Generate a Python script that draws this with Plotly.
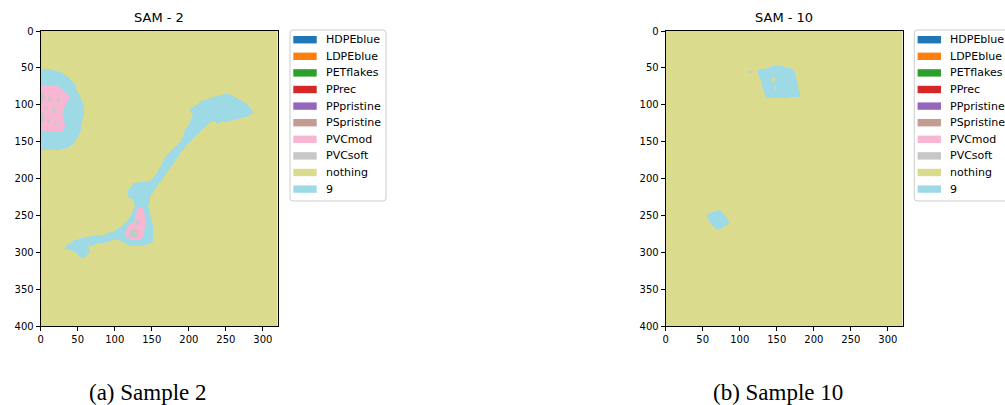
import numpy as np
import plotly.graph_objects as go

# ---------------- data ----------------
CLASS_NAMES = ["HDPEblue", "LDPEblue", "PETflakes", "PPrec", "PPpristine",
               "PSpristine", "PVCmod", "PVCsoft", "nothing", "9"]
CLASS_COLORS = ["#1f77b4", "#ff7f0e", "#2ca02c", "#d62728", "#9467bd",
                "#c49c94", "#f7b6d2", "#c7c7c7", "#dbdb8d", "#9edae5"]
IMG_ROWS = 400
IMG_COLS = 320
BACKGROUND_CLASS = 8

# Sample 2 regions (x, y) in pixel coordinates of the map
SAM2_LEFT_BLOB = [(0, 52), (12, 52), (22, 54), (35, 60), (45, 70), (51, 84), (56, 95),
                  (59, 103), (57, 118), (55, 130), (52, 140), (48, 148), (42, 154),
                  (35, 159), (25, 161), (17, 162), (0, 162)]
SAM2_LEFT_PINK = [(0, 73), (12, 73), (22, 75), (30, 79), (35, 84), (41, 90), (36, 96),
                  (31, 106), (29, 114), (32, 122), (33, 128), (31, 135), (20, 137),
                  (12, 136), (0, 136)]
SAM2_LEFT_GRAY = [
    [(0, 84), (4, 82), (6, 90), (3, 96), (0, 95)],
    [(0, 112), (3, 110), (6, 117), (4, 124), (0, 125)],
    [(10, 90), (14, 89), (15, 94), (11, 96)],
    [(15, 106), (19, 105), (20, 110), (16, 112)],
    [(8, 120), (12, 119), (13, 124), (9, 125)],
    [(22, 92), (25, 91), (26, 95), (23, 96)],
    [(6, 102), (9, 101), (10, 105), (7, 106)],
    [(18, 124), (21, 123), (22, 127), (19, 128)],
]
SAM2_STRIP = [(201, 107), (215, 96), (233, 89), (253, 85), (262, 89), (275, 96), (284, 105),
              (287, 111), (279, 116), (266, 119), (251, 123), (239, 125), (230, 123),
              (221, 131), (208, 143), (197, 155), (184, 172), (170, 193), (157, 211),
              (148, 225), (145, 238), (150, 256), (152, 274), (151, 286), (143, 290),
              (130, 292), (118, 290), (112, 286), (103, 283), (94, 285), (75, 289),
              (64, 292), (67, 299), (60, 306), (55, 309), (51, 304), (46, 298), (37, 297),
              (33, 295), (35, 290), (48, 283), (62, 279), (86, 276), (100, 271),
              (106, 267), (112, 262), (121, 252), (127, 238), (125, 229), (118, 225),
              (118, 216), (125, 206), (146, 204), (157, 193), (166, 175), (176, 162),
              (190, 148), (196, 133), (201, 125), (205, 114)]
SAM2_EDGE_BIT = [(0, 266), (2, 268), (2, 274), (0, 276)]
SAM2_STRIP_PINK = [(131, 240), (138, 239), (141, 250), (141, 262), (140, 277), (134, 283),
                   (125, 284), (114, 278), (115, 268), (122, 262), (127, 256), (129, 247)]
SAM2_STRIP_GRAY = [
    [(119, 272), (126, 267), (133, 271), (131, 280), (121, 281)],
    [(128, 258), (133, 256), (134, 262), (129, 263)],
]

# Sample 10 regions
SAM10_TOP_BLOB = [(125, 53), (138, 50), (150, 46), (162, 49), (172, 51), (176, 65),
                  (181, 84), (181, 89), (170, 90), (159, 91), (147, 91), (136, 91),
                  (131, 78), (129, 70), (125, 58)]
SAM10_TOP_HOLES = [
    [(143, 64), (147, 63), (148, 68), (144, 69)],
    [(146, 76), (149, 75), (150, 80), (147, 80)],
]
SAM10_SPECK = [(113, 54), (116, 54), (116, 57), (113, 57)]
SAM10_LOW_BLOB = [(55, 249), (63, 246), (71, 243), (78, 247), (80, 250), (84, 256),
                  (87, 261), (79, 265), (70, 270), (64, 265), (58, 256)]


# ---------------- rasterise ----------------
def point_in_poly(poly, xs, ys):
    inside = np.zeros(xs.shape, dtype=bool)
    n = len(poly)
    for i in range(n):
        x1, y1 = poly[i]
        x2, y2 = poly[(i + 1) % n]
        cond = (y1 > ys) != (y2 > ys)
        with np.errstate(divide="ignore", invalid="ignore"):
            xint = (x2 - x1) * (ys - y1) / (y2 - y1 + 1e-12) + x1
        inside ^= cond & (xs < xint)
    return inside


def build_grid(layers):
    yy, xx = np.mgrid[0:IMG_ROWS, 0:IMG_COLS]
    xc = xx + 0.5
    yc = yy + 0.5
    grid = np.full((IMG_ROWS, IMG_COLS), BACKGROUND_CLASS, dtype=float)
    for cls, poly in layers:
        grid[point_in_poly(poly, xc, yc)] = cls
    return grid


sam2_layers = [(9, SAM2_LEFT_BLOB), (6, SAM2_LEFT_PINK)] + \
              [(7, p) for p in SAM2_LEFT_GRAY] + \
              [(9, SAM2_STRIP), (9, SAM2_EDGE_BIT), (6, SAM2_STRIP_PINK)] + \
              [(7, p) for p in SAM2_STRIP_GRAY]
sam10_layers = [(9, SAM10_TOP_BLOB)] + [(8, p) for p in SAM10_TOP_HOLES] + \
               [(9, SAM10_SPECK), (9, SAM10_LOW_BLOB)]

grid2 = build_grid(sam2_layers)
grid10 = build_grid(sam10_layers)

# discrete colorscale
cs = []
n = len(CLASS_COLORS)
for k, c in enumerate(CLASS_COLORS):
    cs.append([k / n, c])
    cs.append([(k + 1) / n, c])

W, H = 1005, 405


def fx(p):
    return p / W


def fy(p):
    return 1 - p / H


fig = go.Figure()
xc = np.arange(IMG_COLS) + 0.5
yc = np.arange(IMG_ROWS) + 0.5
for i, g in enumerate([grid2, grid10]):
    fig.add_trace(go.Heatmap(z=g, x=xc, y=yc, colorscale=cs, zmin=-0.5, zmax=9.5,
                             showscale=False, zsmooth=False, hoverinfo="skip",
                             xaxis="x" if i == 0 else "x2",
                             yaxis="y" if i == 0 else "y2"))

axis_common = dict(showline=True, mirror=True, linecolor="black", linewidth=1,
                   ticks="outside", ticklen=4, tickwidth=1, tickcolor="black",
                   showgrid=False, zeroline=False, automargin=False,
                   tickfont=dict(family="DejaVu Sans", size=10, color="black"))
ax_left = (40.7, 277.7)
ax_right = (665.7, 902.7)
ax_top, ax_bot = 31, 326
ydom = [fy(ax_bot), fy(ax_top)]

fig.update_layout(
    width=W, height=H, margin=dict(l=0, r=0, t=0, b=0, autoexpand=False),
    paper_bgcolor="white", plot_bgcolor="white", showlegend=False,
    xaxis=dict(domain=[fx(ax_left[0]), fx(ax_left[1])], range=[0, 320],
               tickvals=[0, 50, 100, 150, 200, 250, 300], anchor="y", **axis_common),
    yaxis=dict(domain=ydom, range=[400, 0], tickvals=list(range(0, 401, 50)),
               anchor="x", **axis_common),
    xaxis2=dict(domain=[fx(ax_right[0]), fx(ax_right[1])], range=[0, 320],
                tickvals=[0, 50, 100, 150, 200, 250, 300], anchor="y2", **axis_common),
    yaxis2=dict(domain=ydom, range=[400, 0], tickvals=list(range(0, 401, 50)),
                anchor="x2", **axis_common),
)

annotations = []
shapes = []
titles = ["SAM - 2", "SAM - 10"]
captions = ["(a) Sample 2", "(b) Sample 10"]
caption_x = [148, 778]
for i, (l, r) in enumerate([ax_left, ax_right]):
    annotations.append(dict(x=fx((l + r) / 2), y=fy(18), xref="paper", yref="paper",
                            text=titles[i], showarrow=False, xanchor="center",
                            yanchor="middle",
                            font=dict(family="DejaVu Sans", size=13, color="black")))
    annotations.append(dict(x=fx(caption_x[i]), y=fy(392), xref="paper", yref="paper",
                            text=captions[i], showarrow=False, xanchor="center",
                            yanchor="middle",
                            font=dict(family="Liberation Serif", size=23, color="black")))


def rounded_rect(x0, y0, x1, y1, r):
    # pixel coords -> paper path
    def P(x, y):
        return f"{fx(x):.5f},{fy(y):.5f}"
    return (f"M {P(x0 + r, y0)} L {P(x1 - r, y0)} Q {P(x1, y0)} {P(x1, y0 + r)} "
            f"L {P(x1, y1 - r)} Q {P(x1, y1)} {P(x1 - r, y1)} L {P(x0 + r, y1)} "
            f"Q {P(x0, y1)} {P(x0, y1 - r)} L {P(x0, y0 + r)} Q {P(x0, y0)} {P(x0 + r, y0)} Z")


legend_left = [290, 914.3]
leg_top, leg_bot = 30, 201
leg_w = 96
row0 = 39.7
row_step = 16.6
for L in legend_left:
    shapes.append(dict(type="path", xref="paper", yref="paper",
                       path=rounded_rect(L, leg_top, L + leg_w, leg_bot, 3),
                       line=dict(color="#cccccc", width=1),
                       fillcolor="rgba(255,255,255,0.8)"))
    for k, (name, col) in enumerate(zip(CLASS_NAMES, CLASS_COLORS)):
        cy = row0 + k * row_step
        shapes.append(dict(type="rect", xref="paper", yref="paper",
                           x0=fx(L + 3.3), x1=fx(L + 26.7), y0=fy(cy + 3.7), y1=fy(cy - 3.7),
                           line=dict(width=0), fillcolor=col))
        annotations.append(dict(x=fx(L + 33.5), y=fy(cy), xref="paper", yref="paper",
                                text=name, showarrow=False, xanchor="left",
                                yanchor="middle",
                                font=dict(family="DejaVu Sans", size=11, color="black")))

fig.update_layout(annotations=annotations, shapes=shapes)
fig.write_html("out.html", config={"displayModeBar": False},
               post_script="document.body.style.margin='0';"
                           "document.body.style.overflow='hidden';")
